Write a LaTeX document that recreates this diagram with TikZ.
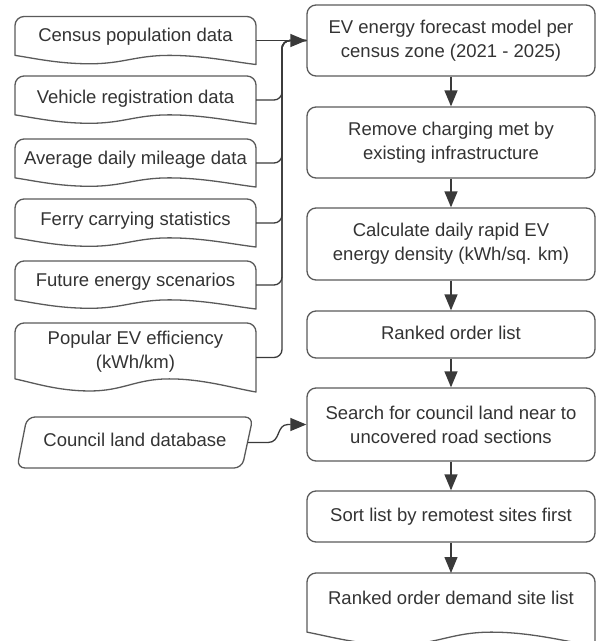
\documentclass[tikz,border=0pt]{standalone}
\usepackage{fontspec}
\setmainfont{Liberation Sans}
\usetikzlibrary{arrows.meta}
\definecolor{linec}{HTML}{5A5A5A}
\definecolor{arrc}{HTML}{3A3A3A}
\definecolor{textc}{HTML}{333333}
\newcommand\myfs{\fontsize{18.5}{24}\selectfont}
\newcommand\docshape[4]{%
  \pgfmathsetmacro\dsW{#3-#1}%
  \pgfmathsetmacro\dsH{#4-#2}%
  \pgfmathsetmacro\dsL{#2+0.81*\dsH}%
  \pgfmathsetmacro\dsT{#2+0.985*\dsH}%
  \pgfmathsetmacro\dsR{9}%
  \draw[shp] (#1,\dsL) -- ({#1},{#2+\dsR}) .. controls ({#1},{#2+0.45*\dsR}) and ({#1+0.45*\dsR},{#2}) .. ({#1+\dsR},{#2})
   -- ({#3-\dsR},{#2}) .. controls ({#3-0.45*\dsR},{#2}) and ({#3},{#2+0.45*\dsR}) .. ({#3},{#2+\dsR})
   -- (#3,#4) .. controls ({#3-0.1*\dsW},{#4-0.06*\dsH}) and ({#1+0.78*\dsW},{\dsL}) .. ({#1+0.64*\dsW},{\dsL})
   .. controls ({#1+0.5*\dsW},{\dsL}) and ({#1+0.45*\dsW},{\dsT}) .. ({#1+0.31*\dsW},{\dsT})
   .. controls ({#1+0.18*\dsW},{\dsT}) and ({#1+0.08*\dsW},{#2+0.87*\dsH}) .. (#1,\dsL) -- cycle;
}
\begin{document}
\begin{tikzpicture}[x=1pt,y=-1pt,
  shp/.style={draw=linec, line width=1.3pt, line join=round},
  bb/.style={inner sep=0pt, outer sep=0pt, draw=none},
  txt/.style={text=textc, font=\myfs, align=center, inner sep=0pt},
  one/.style={text height=13.5pt, text depth=4pt},
  box/.style={shp, rounded corners=9pt, minimum width=288pt, txt},
  conn/.style={draw=arrc, line width=1.3pt, -{Triangle[length=16pt,width=13pt]}},
  busline/.style={draw=arrc, line width=1.3pt, rounded corners=8pt},
]
\useasboundingbox (0,0) rectangle (597,641);

% left document shapes
\docshape{15}{16.5}{256}{64.5}
\node[bb, minimum width=241pt, minimum height=48pt] (d1) at (135.5,40.5) {};
\node[txt, one] (d1t) at (135.5,37) {Census population data};

\docshape{15}{76}{256}{124}
\node[bb, minimum width=241pt, minimum height=48pt] (d2) at (135.5,100) {};
\node[txt, one] (d2t) at (135.5,99) {Vehicle registration data};

\docshape{15}{139}{256}{187}
\node[bb, minimum width=241pt, minimum height=48pt] (d3) at (135.5,163) {};
\node[txt, one] (d3t) at (135.5,160) {Average daily mileage data};

\docshape{15}{199}{256}{247}
\node[bb, minimum width=241pt, minimum height=48pt] (d4) at (135.5,223) {};
\node[txt, one] (d4t) at (135.5,221) {Ferry carrying statistics};

\docshape{15}{261}{256}{309}
\node[bb, minimum width=241pt, minimum height=48pt] (d5) at (135.5,285) {};
\node[txt, one] (d5t) at (135.5,282) {Future energy scenarios};

\docshape{15}{323}{256}{392}
\node[bb, minimum width=241pt, minimum height=69pt] (d6) at (135.5,357.5) {};
\node[txt] (d6t) at (135.5,352) {Popular EV efficiency\\(kWh/km)};

% council land (parallelogram)
\draw[shp, rounded corners=8pt] (27,417) -- (253,417) -- (242,468) -- (17,468) -- cycle;
\node[bb, minimum width=225pt, minimum height=51pt] (cl) at (135,442.5) {};
\node[txt, one] (clt) at (135,442) {Council land database};

% right process boxes
\node[box, minimum height=71pt] (b1) at (451,40.5) {EV energy forecast model per\\census zone (2021 - 2025)};
\node[box, minimum height=71pt] (b2) at (451,142.5) {Remove charging met by\\existing infrastructure};
\node[box, minimum height=72pt] (b3) at (451,244) {Calculate daily rapid EV\\energy density (kWh/sq. km)};
\node[box, one, minimum height=47pt] (b4) at (451,334.5) {Ranked order list};
\node[box, minimum height=73pt] (b5) at (451,424.5) {Search for council land near to\\uncovered road sections};
\node[box, one, minimum height=51pt] (b6) at (451,516.5) {Sort list by remotest sites first};

\docshape{307}{573}{595}{646}
\node[bb, minimum width=288pt, minimum height=73pt] (b7) at (451,609.5) {};
\node[txt, one] (b7t) at (451,600) {Ranked order demand site list};

% connectors
\coordinate (bus) at (282,40.5);
\foreach \d in {d2,d3,d4,d5,d6}{
  \draw[busline] (\d.east) -| (bus) -- (b1.west);
}
\draw[conn] (d1.east) -- (b1.west);

\coordinate (k1) at (268,442.5);
\coordinate (k2) at (288,424.5);
\draw[conn] (cl.east) -- (k1) .. controls (281,442.5) and (276,424.5) .. (k2) -- (b5.west);

\draw[conn] (b1) -- (b2);
\draw[conn] (b2) -- (b3);
\draw[conn] (b3) -- (b4);
\draw[conn] (b4) -- (b5);
\draw[conn] (b5) -- (b6);
\draw[conn] (b6) -- (b7);
\end{tikzpicture}
\end{document}
